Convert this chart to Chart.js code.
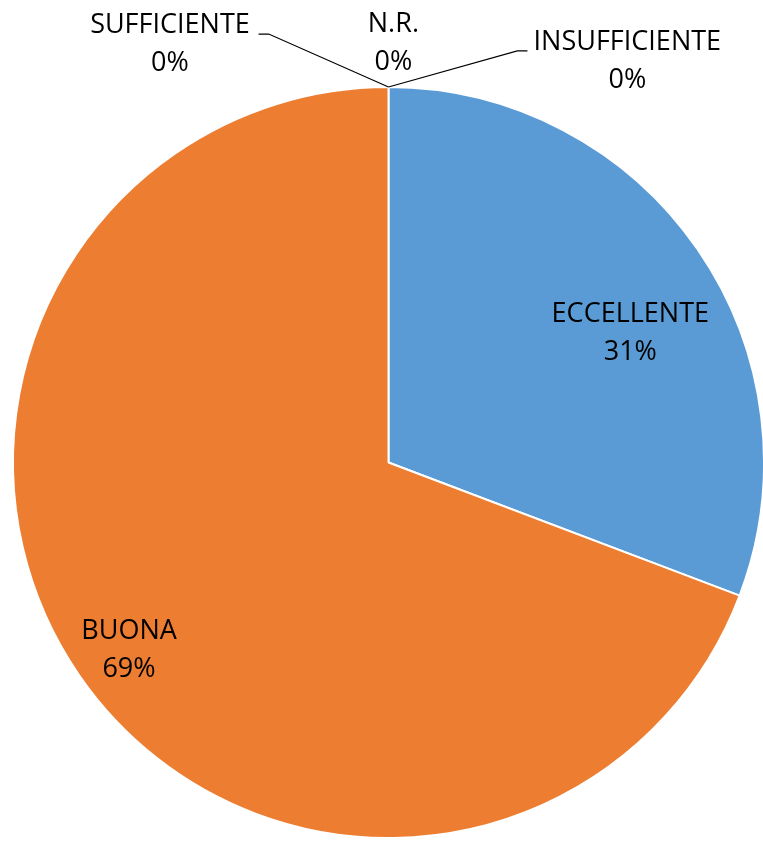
<!DOCTYPE html>
<html>
<head>
<meta charset="utf-8">
<script src="https://cdn.jsdelivr.net/npm/chart.js@4"></script>
<style>
  html, body { margin: 0; padding: 0; background: #fff; overflow: hidden; }
  #wrap { width: 765px; height: 841px; }
</style>
</head>
<body>
<div id="wrap"><canvas id="pie"></canvas></div>
<script>
// data
const categories = ["ECCELLENTE", "BUONA", "SUFFICIENTE", "INSUFFICIENTE", "N.R."];
const counts = [4, 9, 0, 0, 0];
const colors = ["#5B9BD5", "#ED7D31", "#A5A5A5", "#FFC000", "#4472C4"];

// label placement, in units of the pie radius from its centre
const labelAt = [
  { x: 0.644, y: -0.343 },
  { x: -0.691, y: 0.5 },
  { x: -0.582, y: -1.114 },
  { x: 0.636, y: -1.069 },
  { x: 0.013, y: -1.117 },
];
// leader lines for the empty slices: [elbow, end] in radius units
const leaders = {
  2: [{ x: -0.319, y: -1.141 }, { x: -0.346, y: -1.141 }],
  3: [{ x: 0.343, y: -1.096 }, { x: 0.37, y: -1.096 }],
};

const total = counts.reduce((a, b) => a + b, 0);

const pieLabels = {
  id: "pieLabels",
  afterDatasetsDraw(chart) {
    const ctx = chart.ctx;
    const arcs = chart.getDatasetMeta(0).data;
    const cx = arcs[0].x, cy = arcs[0].y, r = arcs[0].outerRadius;
    ctx.save();

    // leader lines
    ctx.strokeStyle = "#000";
    ctx.lineWidth = 1.2;
    Object.keys(leaders).forEach(k => {
      const [elbow, end] = leaders[k];
      ctx.beginPath();
      ctx.moveTo(cx, cy - r);
      ctx.lineTo(cx + elbow.x * r, cy + elbow.y * r);
      ctx.lineTo(cx + end.x * r, cy + end.y * r);
      ctx.stroke();
    });

    ctx.fillStyle = "#000";
    ctx.font = "27px 'Open Sans'";
    ctx.textAlign = "center";
    ctx.textBaseline = "middle";
    categories.forEach((name, i) => {
      const p = labelAt[i];
      const x = cx + p.x * r, y = cy + p.y * r;
      const pct = Math.round(counts[i] / total * 100) + "%";
      ctx.fillText(name, x, y - 19);
      ctx.fillText(pct, x, y + 19);
    });
    ctx.restore();
  }
};

new Chart(document.getElementById("pie"), {
  type: "pie",
  data: {
    labels: categories,
    datasets: [{
      data: counts,
      backgroundColor: colors,
      borderColor: "#fff",
      borderWidth: 2,
    }],
  },
  options: {
    responsive: true,
    maintainAspectRatio: false,
    animation: false,
    layout: { padding: { left: 12, right: 0, top: 86, bottom: 2 } },
    plugins: {
      legend: { display: false },
      tooltip: { enabled: false },
    },
  },
  plugins: [pieLabels],
});
</script>
</body>
</html>
